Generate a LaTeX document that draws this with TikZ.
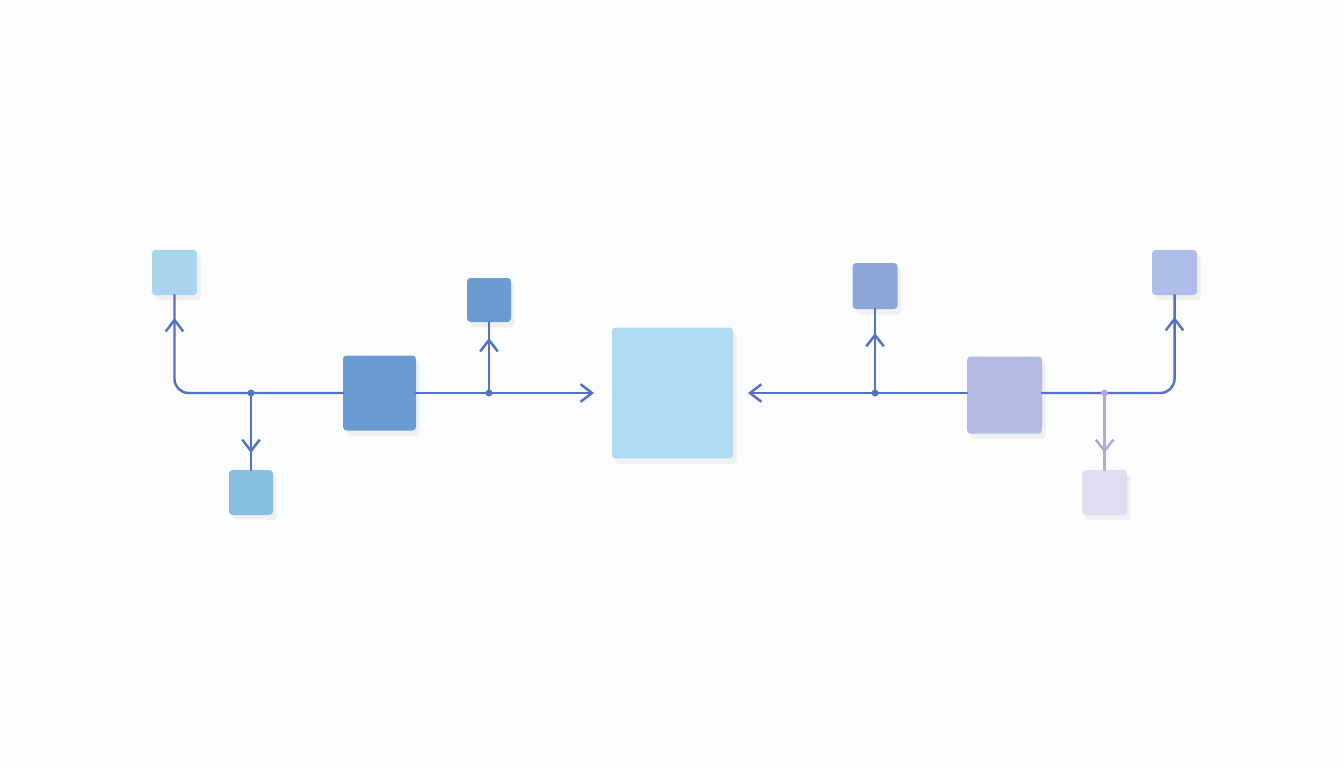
\documentclass[tikz,border=0pt]{standalone}
\usetikzlibrary{shadows,arrows.meta,decorations.markings}
\definecolor{tileA}{HTML}{A9D5EE}
\definecolor{tileB}{HTML}{88BEE2}
\definecolor{tileC}{HTML}{6B9CD1}
\definecolor{tileE}{HTML}{B0DAEF}
\definecolor{tileF}{HTML}{8DA6D8}
\definecolor{tileG}{HTML}{B4B9E4}
\definecolor{tileH}{HTML}{AEBDE7}
\definecolor{tileI}{HTML}{DEDEF0}
\definecolor{wireblue}{HTML}{5572C2}
\definecolor{wirelilac}{HTML}{B7A6D8}
\definecolor{paper}{HTML}{FCFDFE}
\tikzset{
  tile/.style={rounded corners=2pt, inner sep=0pt, outer sep=0pt,
    drop shadow={shadow xshift=2pt, shadow yshift=-3pt, opacity=0.07, fill=black!70}},
  wire/.style={draw=wireblue, line width=1.4pt, line cap=round},
  barb/.tip={Straight Barb[length=6.5pt, width=10pt, line width=1.4pt]},
  midtip/.style={postaction={decorate}, decoration={markings,
    mark=at position #1 with {\arrow{barb}}}}
}
\begin{document}
\begin{tikzpicture}[x=0.02cm, y=-0.02cm]
    \fill[paper] (0,0) rectangle (1344,768);
    % tiles
    \node[tile, fill=tileA, minimum width=0.9cm, minimum height=0.9cm] (a) at (174.5, 272.5) {};
    \node[tile, fill=tileB, minimum width=0.88cm, minimum height=0.9cm] (b) at (251, 492.5) {};
    \node[tile, fill=tileC, minimum width=1.46cm, minimum height=1.5cm] (c) at (379.5, 393) {};
    \node[tile, fill=tileC, minimum width=0.88cm, minimum height=0.88cm] (d) at (489, 300) {};
    \node[tile, fill=tileE, minimum width=2.42cm, minimum height=2.62cm] (e) at (672.5, 393) {};
    \node[tile, fill=tileF, minimum width=0.9cm, minimum height=0.92cm] (f) at (875, 286) {};
    \node[tile, fill=tileG, minimum width=1.5cm, minimum height=1.54cm] (g) at (1004.5, 395) {};
    \node[tile, fill=tileH, minimum width=0.9cm, minimum height=0.9cm] (h) at (1174.5, 272.5) {};
    \node[tile, fill=tileI, minimum width=0.9cm, minimum height=0.9cm] (i) at (1104.5, 492.5) {};
    % junctions
    \coordinate (j1) at (b.north |- c.east);
    \coordinate (j2) at (d.south |- c.east);
    \coordinate (j3) at (f.south |- c.east);
    \coordinate (j4) at (i.north |- c.east);
    % left branch
    \draw[wire, rounded corners=8pt, midtip=-0.46cm] (c.west) -| (a.south);
    \draw[wire, midtip=-0.34cm] (j1) -- (b.north);
    \draw[wire, -{barb}, shorten >=0.36cm] (c.east) -- (e.west);
    \draw[wire, midtip=-0.32cm] (j2) -- (d.south);
    % right branch
    \draw[wire, -{barb}, shorten >=0.3cm] (g.west |- c.east) -- (e.east);
    \draw[wire, midtip=-0.48cm] (j3) -- (f.south);
    \draw[wire, rounded corners=8pt, midtip=-0.44cm] (g.east |- c.east) -| (h.south);
    \draw[wire, draw=wirelilac, midtip=-0.34cm] (j4) -- (i.north);
    \fill[wireblue] (j1) circle (2pt) (j2) circle (2pt) (j3) circle (2pt);
    \fill[wirelilac] (j4) circle (2pt);
\end{tikzpicture}
\end{document}
